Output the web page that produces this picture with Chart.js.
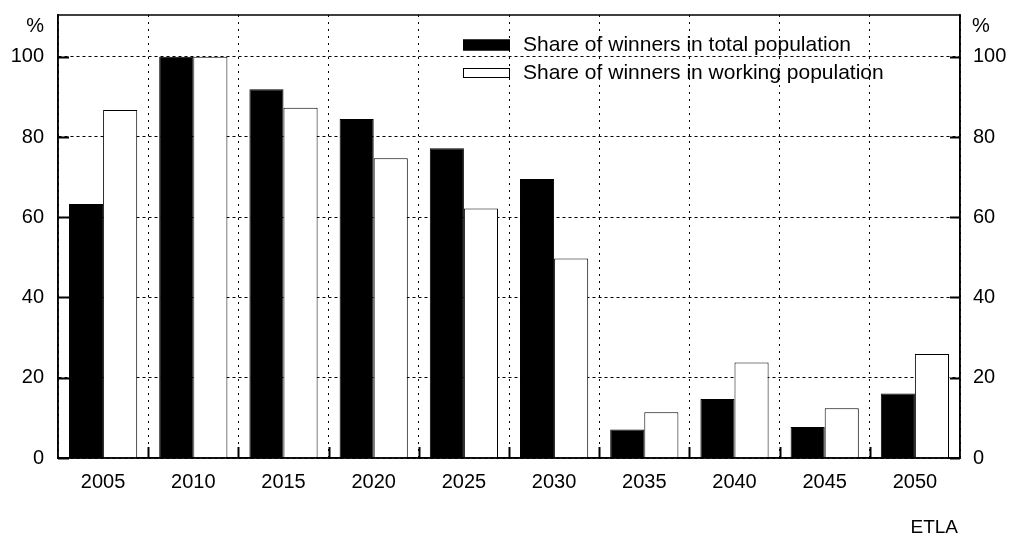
<!DOCTYPE html>
<html>
<head>
<meta charset="utf-8">
<script src="https://cdn.jsdelivr.net/npm/chart.js@4/dist/chart.umd.min.js"></script>
<style>
  html, body { margin: 0; padding: 0; background: #fff; }
  #wrap { width: 1010px; height: 536px; position: relative; }
</style>
</head>
<body>
<div id="wrap"><canvas id="winnersChart"></canvas></div>
<script>
// --- data ---
const years = ['2005', '2010', '2015', '2020', '2025', '2030', '2035', '2040', '2045', '2050'];
const totalShare = [63.3, 100, 91.9, 84.5, 77.2, 69.5, 7.1, 14.7, 7.7, 16.1];
const workingShare = [86.7, 100, 87.3, 74.7, 62.2, 49.7, 11.4, 23.8, 12.4, 25.9];
const yTicks = [0, 20, 40, 60, 80, 100];
const seriesLabels = ['Share of winners in total population', 'Share of winners in working population'];
const unitLabel = '%';
const sourceLabel = 'ETLA';

const FONT = '"Liberation Sans", Arial, sans-serif';
Chart.defaults.font.family = FONT;
Chart.defaults.font.size = 20;
Chart.defaults.color = '#000';

// frame, inward tick marks, legend, % signs and source text
const decorations = {
    id: 'decorations',
    afterDatasetsDraw(chart) {
        const ctx = chart.ctx;
        const a = chart.chartArea;
        const y = chart.scales.y;
        const x = chart.scales.x;
        ctx.save();
        ctx.strokeStyle = '#000';

        // frame
        ctx.lineWidth = 1.5;
        ctx.strokeRect(a.left, a.top, a.right - a.left, a.bottom - a.top);

        // inward ticks on both y axes
        ctx.lineWidth = 2;
        ctx.beginPath();
        yTicks.forEach(v => {
            const py = Math.round(y.getPixelForValue(v)) + 0.5;
            ctx.moveTo(a.left, py); ctx.lineTo(a.left + 11, py);
            ctx.moveTo(a.right - 10, py); ctx.lineTo(a.right, py);
        });
        // inward ticks on x axis at category boundaries
        for (let i = 1; i < years.length; i++) {
            const px = Math.round((x.getPixelForValue(i - 1) + x.getPixelForValue(i)) / 2) + 0.5;
            ctx.moveTo(px, a.bottom); ctx.lineTo(px, a.bottom - 11);
        }
        ctx.stroke();

        // legend
        const ds = chart.data.datasets;
        const rows = [45, 73];
        ctx.font = '21px ' + FONT;
        ctx.textBaseline = 'middle';
        ctx.textAlign = 'left';
        ds.forEach((d, i) => {
            const h = i === 0 ? 11 : 10;
            ctx.fillStyle = d.backgroundColor;
            ctx.fillRect(463, rows[i] - h / 2, 47, h);
            ctx.lineWidth = 1;
            ctx.strokeRect(463.5, rows[i] - h / 2 + 0.5, 46, h - 1);
            ctx.fillStyle = '#000';
            ctx.fillText(d.label, 523, rows[i]);
        });

        // % signs above the y axes
        ctx.font = '20px ' + FONT;
        ctx.textAlign = 'right';
        ctx.fillText(unitLabel, 44, 26);
        ctx.textAlign = 'left';
        ctx.fillText(unitLabel, 972, 26);

        // source
        ctx.font = '19px ' + FONT;
        ctx.textAlign = 'right';
        ctx.fillText(sourceLabel, 958, 528);
        ctx.restore();
    }
};

const yScaleBase = {
    min: 0,
    max: 110.4,
    ticks: { stepSize: 20, includeBounds: false, color: '#000', font: { size: 20 } },
    afterBuildTicks: s => { s.ticks = s.ticks.filter(t => yTicks.includes(t.value)); }
};

const ctxWinners = document.getElementById('winnersChart').getContext('2d');
const winnersChart = new Chart(ctxWinners, {
    type: 'bar',
    data: {
        labels: years,
        datasets: [{
            label: seriesLabels[0],
            data: totalShare,
            backgroundColor: '#000',
            borderColor: '#000',
            borderWidth: 1,
            borderSkipped: 'start'
        }, {
            label: seriesLabels[1],
            data: workingShare,
            backgroundColor: '#fff',
            borderColor: '#000',
            borderWidth: 1,
            borderSkipped: 'start'
        }]
    },
    options: {
        responsive: true,
        maintainAspectRatio: false,
        animation: false,
        events: [],
        categoryPercentage: 0.756,
        barPercentage: 1.0,
        layout: { padding: { top: 15, left: 0, right: 0, bottom: 0 } },
        plugins: {
            legend: { display: false },
            tooltip: { enabled: false }
        },
        scales: {
            x: {
                grid: { color: '#000', lineWidth: 1, drawTicks: false, offset: true },
                border: { color: '#000', width: 1.5, dash: [2, 5] },
                ticks: { padding: 12, color: '#000', font: { size: 20 }, maxRotation: 0 },
                afterFit: s => { s.height = 78; s.paddingLeft = 0; s.paddingRight = 0; }
            },
            y: {
                ...yScaleBase,
                position: 'left',
                grid: { color: '#000', lineWidth: 1, drawTicks: false },
                border: { color: '#000', width: 1.5, dash: [3, 3] },
                ticks: { ...yScaleBase.ticks, padding: 14 },
                afterFit: s => { s.width = 58; s.paddingTop = 0; s.paddingBottom = 0; }
            },
            y2: {
                ...yScaleBase,
                position: 'right',
                grid: { drawOnChartArea: false, drawTicks: false },
                border: { color: '#000', width: 1.5 },
                ticks: { ...yScaleBase.ticks, padding: 13 },
                afterFit: s => { s.width = 50; s.paddingTop = 0; s.paddingBottom = 0; }
            }
        }
    },
    plugins: [decorations]
});
</script>
</body>
</html>
